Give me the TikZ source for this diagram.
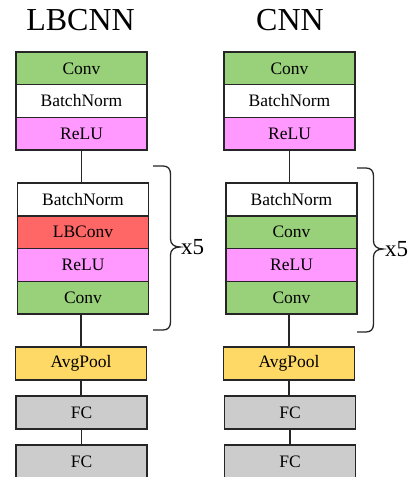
\documentclass[tikz,border=0pt]{standalone}
\usepackage{fontspec}
\setmainfont{Liberation Serif}
\definecolor{cgreen}{HTML}{99D07A}
\definecolor{cpink}{HTML}{FF99FF}
\definecolor{cred}{HTML}{FF6666}
\definecolor{cyellow}{HTML}{FFD966}
\definecolor{cgray}{HTML}{CCCCCC}
\begin{document}
\begin{tikzpicture}[x=1pt,y=-1pt,
  layer/.style={draw=black!85, line width=1.5pt, minimum width=131pt, minimum height=32.7pt, inner sep=0pt, font=\fontsize{17.5}{20}\selectfont},
  title/.style={font=\fontsize{32}{36}\selectfont, inner sep=0pt},
  link/.style={draw=black!85, line width=1.5pt},
  bracepath/.style={draw=black!85, line width=1.3pt},
  reps/.style={font=\fontsize{23}{26}\selectfont, inner sep=0pt, anchor=west}]
\clip (0,0) rectangle (411,477);
\fill[white] (0,0) rectangle (411,477);

% titles
\node[title] (tl) at (80.5,20) {LBCNN};
\node[title] (tr) at (290,20) {CNN};

% left column
\node[layer, fill=cgreen] (l1) at (81.5,68.3) {Conv};
\node[layer, fill=white] (l2) at (81.5,101) {BatchNorm};
\node[layer, fill=cpink] (l3) at (81.5,133.7) {ReLU};
\node[layer, fill=white] (l4) at (83,199.4) {BatchNorm};
\node[layer, fill=cred] (l5) at (83,232.1) {LBConv};
\node[layer, fill=cpink] (l6) at (83,264.9) {ReLU};
\node[layer, fill=cgreen] (l7) at (83,297.6) {Conv};
\node[layer, fill=cyellow] (l8) at (81,363.5) {AvgPool};
\node[layer, fill=cgray] (l9) at (81.5,412.5) {FC};
\node[layer, fill=cgray] (l10) at (81.5,461.5) {FC};

% right column
\node[layer, fill=cgreen] (r1) at (289.5,68.3) {Conv};
\node[layer, fill=white] (r2) at (289.5,101) {BatchNorm};
\node[layer, fill=cpink] (r3) at (289.5,133.7) {ReLU};
\node[layer, fill=white] (r4) at (291.5,199.4) {BatchNorm};
\node[layer, fill=cgreen] (r5) at (291.5,232.1) {Conv};
\node[layer, fill=cpink] (r6) at (291.5,264.9) {ReLU};
\node[layer, fill=cgreen] (r7) at (291.5,297.6) {Conv};
\node[layer, fill=cyellow] (r8) at (289,363.5) {AvgPool};
\node[layer, fill=cgray] (r9) at (290,412.5) {FC};
\node[layer, fill=cgray] (r10) at (290,461.5) {FC};

% connectors
\foreach \c in {l,r}{
  \draw[link] (\c3.south) -- (\c3.south |- \c4.north);
  \draw[link] (\c8.north |- \c7.south) -- (\c8.north);
  \draw[link] (\c8.south) -- (\c8.south |- \c9.north);
  \draw[link] (\c9.south) -- (\c10.north);
}

% braces
\coordinate (bl) at (153,166);
\draw[bracepath] (bl) -- (163,166) .. controls (168,166) and (170.5,169) .. (170.5,174) -- (170.5,239)
  .. controls (170.5,244) and (174,247) .. (180,247)
  .. controls (174,247) and (170.5,250) .. (170.5,255) -- (170.5,322)
  .. controls (170.5,327) and (168,330) .. (163,330) -- (153,330);
\node[reps] (xl) at (181,247) {x5};

\coordinate (br) at (357,168);
\draw[bracepath] (br) -- (366,168) .. controls (371,168) and (373.5,171) .. (373.5,176) -- (373.5,241)
  .. controls (373.5,246) and (377,249) .. (383,249)
  .. controls (377,249) and (373.5,252) .. (373.5,257) -- (373.5,324)
  .. controls (373.5,329) and (371,332) .. (366,332) -- (357,332);
\node[reps] (xr) at (385,249) {x5};
\end{tikzpicture}
\end{document}
